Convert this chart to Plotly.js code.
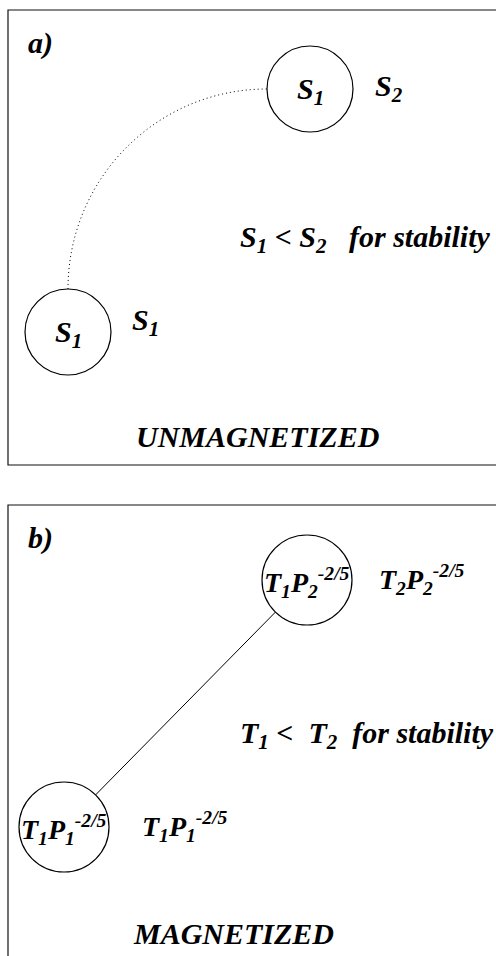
<!DOCTYPE html>
<html><head><meta charset="utf-8">
<script src="https://cdn.plot.ly/plotly-3.0.1.min.js"></script>
<style>html,body{margin:0;padding:0;background:#fff;overflow:hidden}</style>
</head><body><div id="plot" style="width:496px;height:956px"></div>
<script>
// ---- panel frames ----
const panelLeft = [8, 8];
const panelTop = [10, 505];
const panelRight = [497, 497];
const panelBottom = [465, 990];
const panelTags = ['a)', 'b)'];
const panelTagX = [26, 26];
const panelTagY = [43, 538];
const panelTitles = ['UNMAGNETIZED', 'MAGNETIZED'];
const titleX = [257, 233];
const titleY = [436, 933];
// ---- nodes (circles): [lower-left, upper-right] per panel ----
const nodeX = [[68, 310], [64, 307]];
const nodeY = [[332, 89], [827, 580]];
const nodeR = [[43, 43], [45, 45]];
const innerLabels = [['S<sub>1</sub>', 'S<sub>1</sub>'],
                     ['T<sub>1</sub>P<sub>1</sub><sup>-2/5</sup>', 'T<sub>1</sub>P<sub>2</sub><sup>-2/5</sup>']];
const outerLabels = [['S<sub>1</sub>', 'S<sub>2</sub>'],
                     ['T<sub>1</sub>P<sub>1</sub><sup>-2/5</sup>', 'T<sub>2</sub>P<sub>2</sub><sup>-2/5</sup>']];
const outerX = [[130, 373], [140, 377]];
const outerY = [[322, 88], [826, 579]];
const conditions = ['S<sub>1</sub> &lt; S<sub>2</sub>\u00a0\u00a0 for stability',
                    'T<sub>1</sub> &lt;\u00a0 T<sub>2</sub>\u00a0 for stability'];
const condX = [238, 238];
const condY = [239, 735];

const FONT = 'Times New Roman';
const mkFont = size => ({family: FONT, size: size, color: '#000', weight: 'bold', style: 'italic'});

const shapes = [];
const annotations = [];
const traces = [];

for (let p = 0; p < 2; p++) {
  shapes.push({type: 'rect', xref: 'x', yref: 'y', x0: panelLeft[p], x1: panelRight[p],
               y0: panelTop[p], y1: panelBottom[p], line: {color: '#111', width: 1.2}, fillcolor: 'rgba(0,0,0,0)'});
  for (let n = 0; n < 2; n++) {
    const cx = nodeX[p][n], cy = nodeY[p][n], r = nodeR[p][n];
    shapes.push({type: 'circle', xref: 'x', yref: 'y', x0: cx - r, x1: cx + r, y0: cy - r, y1: cy + r,
                 line: {color: '#000', width: 1.2}, fillcolor: 'rgba(0,0,0,0)'});
    annotations.push({xref: 'x', yref: 'y', x: cx, y: cy + 2, text: innerLabels[p][n],
                      showarrow: false, xanchor: 'center', yanchor: 'middle',
                      font: mkFont(p === 0 ? 30 : 28)});
    annotations.push({xref: 'x', yref: 'y', x: outerX[p][n], y: outerY[p][n], text: outerLabels[p][n],
                      showarrow: false, xanchor: 'left', yanchor: 'middle',
                      font: mkFont(p === 0 ? 30 : 28)});
  }
  annotations.push({xref: 'x', yref: 'y', x: panelTagX[p], y: panelTagY[p], text: panelTags[p],
                    showarrow: false, xanchor: 'left', yanchor: 'middle', font: mkFont(30)});
  annotations.push({xref: 'x', yref: 'y', x: titleX[p], y: titleY[p], text: panelTitles[p],
                    showarrow: false, xanchor: 'center', yanchor: 'middle', font: mkFont(30)});
  annotations.push({xref: 'x', yref: 'y', x: condX[p], y: condY[p], text: conditions[p],
                    showarrow: false, xanchor: 'left', yanchor: 'middle', font: mkFont(30)});
}

// panel a: dotted quarter arc from top of lower circle to left of upper circle
{
  const sx = nodeX[0][0], sy = nodeY[0][0] - nodeR[0][0];
  const ex = nodeX[0][1] - nodeR[0][1], ey = nodeY[0][1];
  const k = 0.5523;
  const path = `M ${sx} ${sy} C ${sx} ${sy - k * (sy - ey)} ${ex - k * (ex - sx)} ${ey} ${ex} ${ey}`;
  shapes.push({type: 'path', xref: 'x', yref: 'y', path: path,
               line: {color: '#000', width: 1, dash: '1px,3px'}});
}
// panel b: straight solid line between the circles
{
  const x0 = nodeX[1][0], y0 = nodeY[1][0], x1 = nodeX[1][1], y1 = nodeY[1][1];
  const L = Math.hypot(x1 - x0, y1 - y0);
  const ux = (x1 - x0) / L, uy = (y1 - y0) / L;
  traces.push({type: 'scatter', mode: 'lines', hoverinfo: 'skip', showlegend: false,
               x: [x0 + ux * nodeR[1][0], x1 - ux * nodeR[1][1]],
               y: [y0 + uy * nodeR[1][0], y1 - uy * nodeR[1][1]],
               line: {color: '#000', width: 1}});
}

const layout = {
  width: 496, height: 956,
  margin: {l: 0, r: 0, t: 0, b: 0, pad: 0},
  paper_bgcolor: '#fff', plot_bgcolor: '#fff',
  showlegend: false,
  xaxis: {range: [0, 496], visible: false, fixedrange: true},
  yaxis: {range: [956, 0], visible: false, fixedrange: true},
  shapes: shapes,
  annotations: annotations
};
Plotly.newPlot('plot', traces, layout, {staticPlot: true, displayModeBar: false});
</script>
</body></html>
